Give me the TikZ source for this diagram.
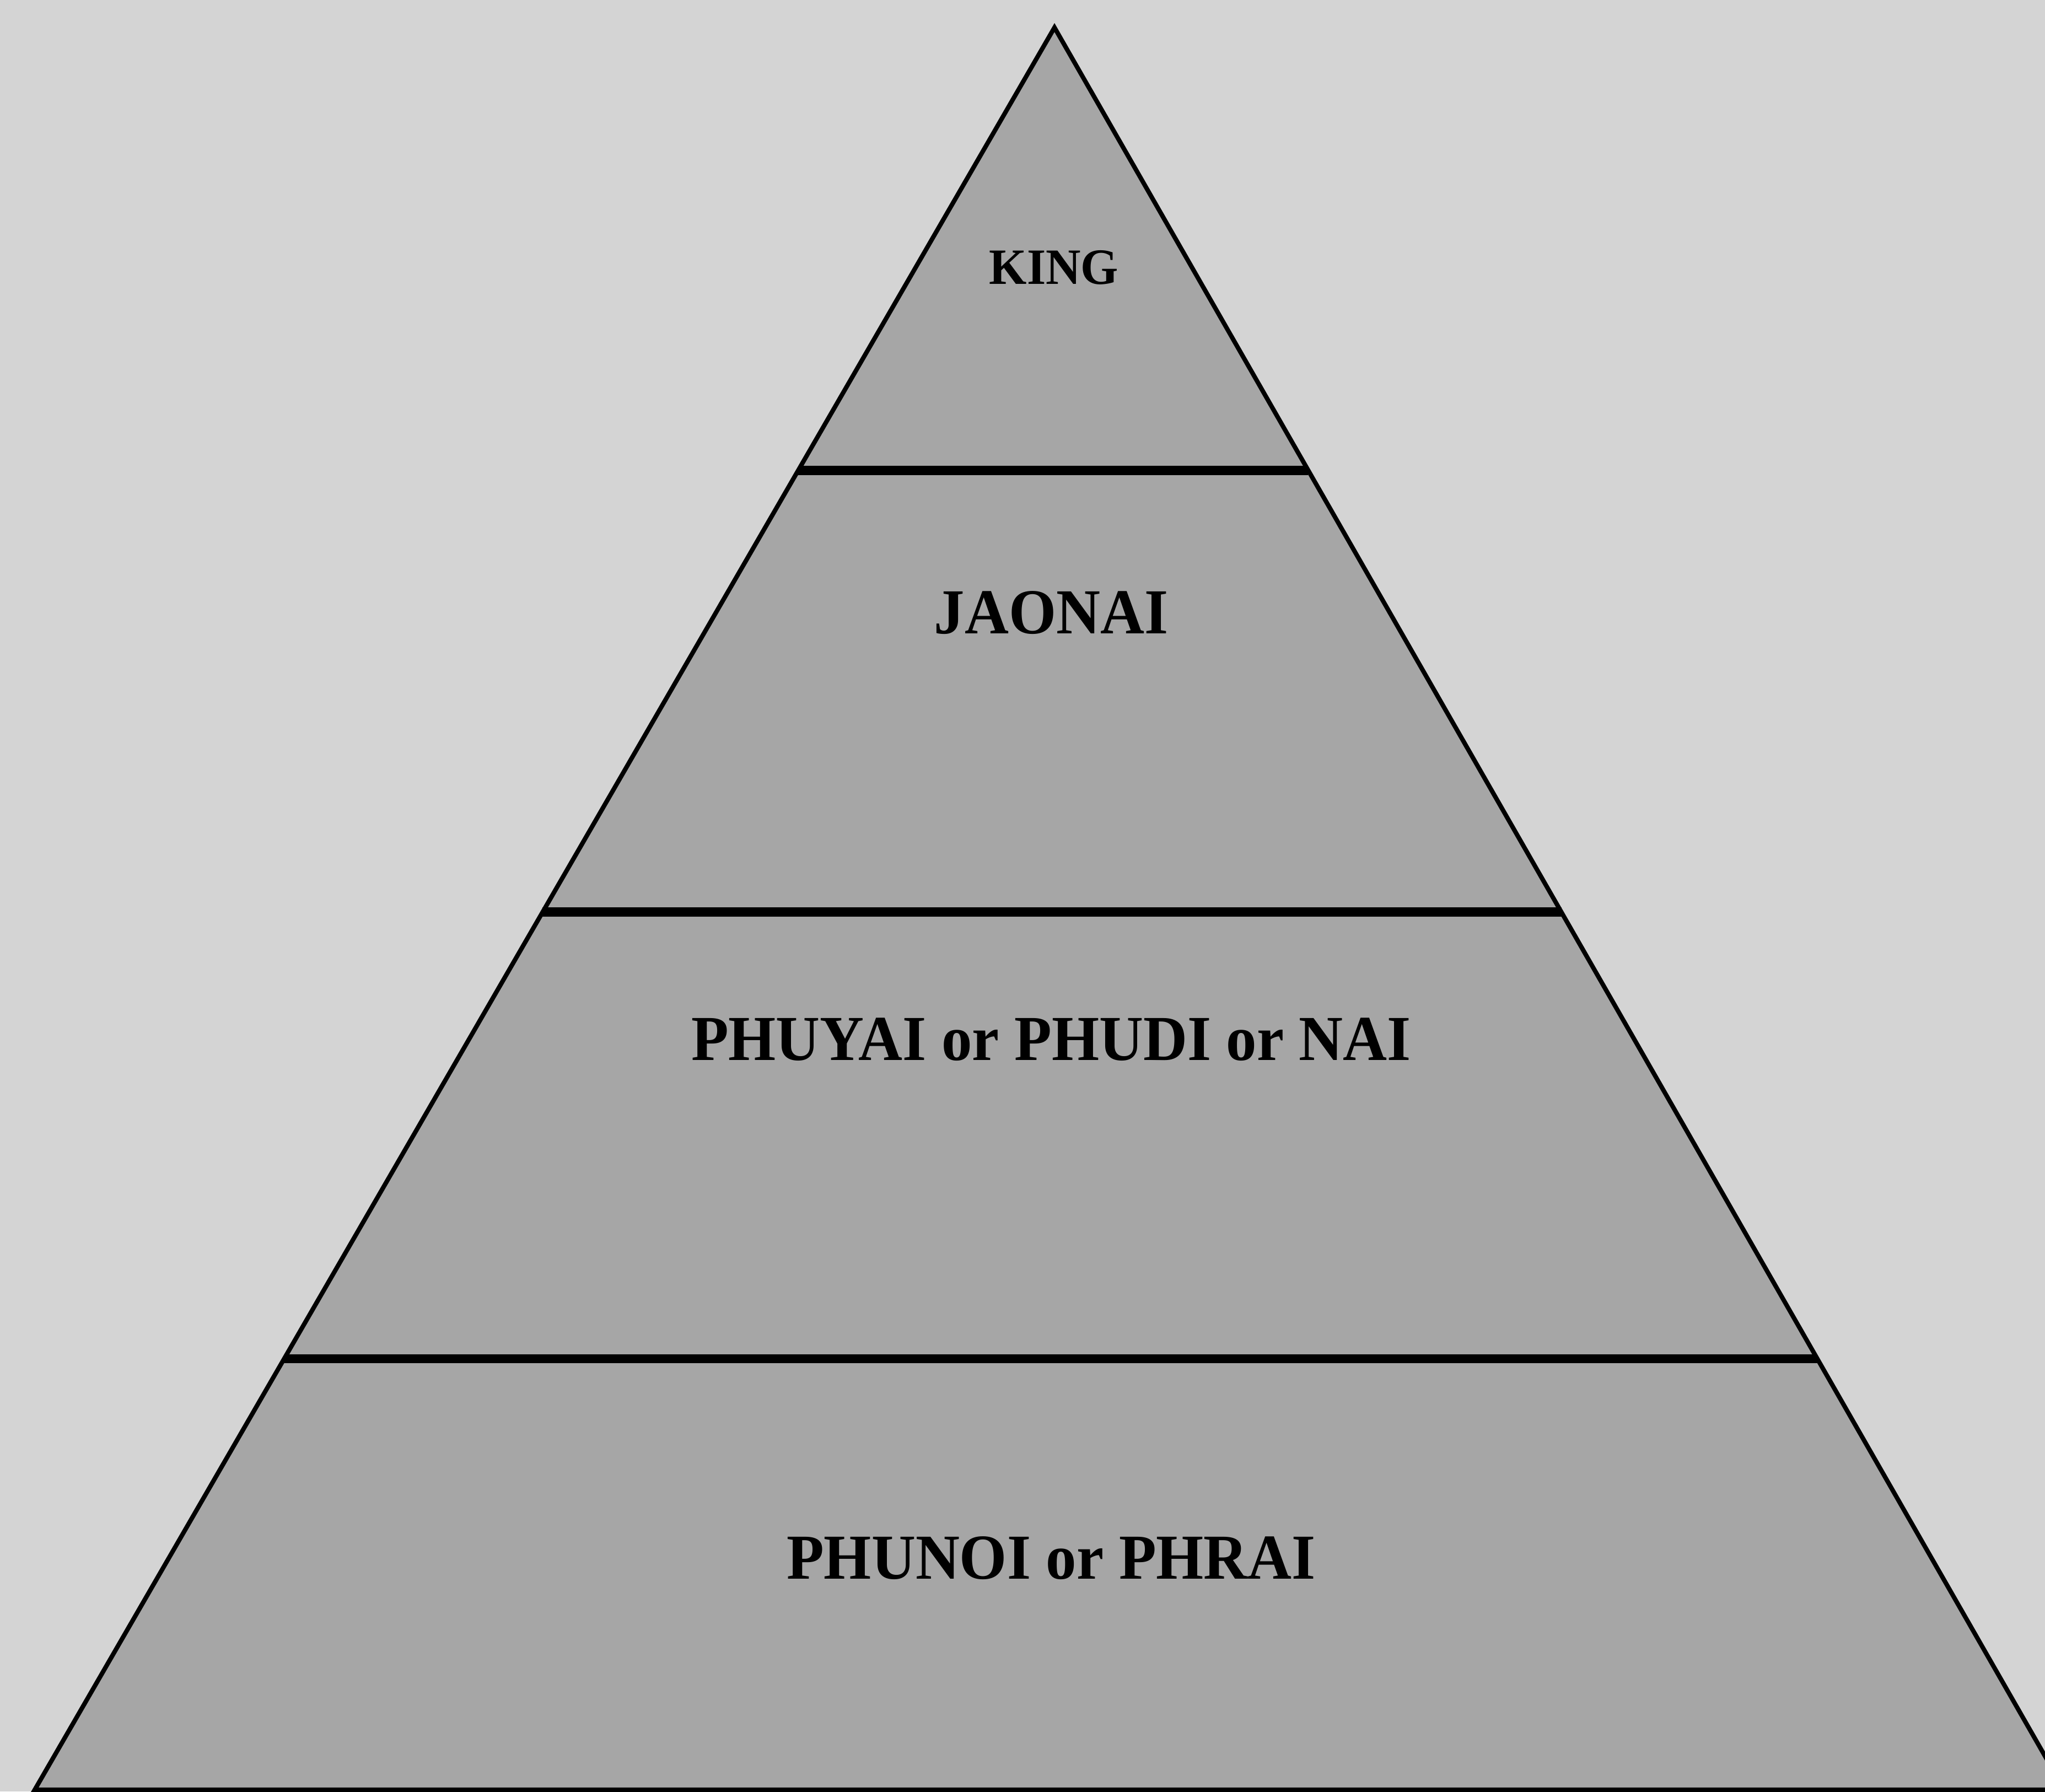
\documentclass[tikz,border=0pt]{standalone}
\usepackage{fontspec}
\setmainfont{Liberation Serif}
\usetikzlibrary{calc}
\definecolor{paper}{RGB}{212,212,212}
\definecolor{tierfill}{RGB}{166,166,166}
\tikzset{
  side/.style={line width=2.3pt, line join=miter},
  divider/.style={line width=4.8pt},
  tierlabel/.style={font=\bfseries\fontsize{31.5pt}{36pt}\selectfont, inner sep=0pt, yscale=1.05, transform shape},
  toplabel/.style={font=\bfseries\fontsize{25pt}{30pt}\selectfont, inner sep=0pt, yscale=1.05, transform shape}
}
\begin{document}
\begin{tikzpicture}
  \fill[paper] (0,0) rectangle (37.1,32.5);
  \useasboundingbox (0,0) rectangle (37.1,32.5);
  \clip (0,0) rectangle (37.1,32.5);
  % corners of the pyramid
  \coordinate (apex) at (19.13,32.00);
  \coordinate (bl) at (0.63,0.03);
  \coordinate (br) at (37.45,0.03);
  \filldraw[fill=tierfill, side] (apex) -- (bl) -- (br) -- cycle;
  % tier boundaries
  \coordinate (l1) at ($(apex)!0.2512!(bl)$);
  \coordinate (r1) at ($(apex)!0.2512!(br)$);
  \coordinate (l2) at ($(apex)!0.502!(bl)$);
  \coordinate (r2) at ($(apex)!0.502!(br)$);
  \coordinate (l3) at ($(apex)!0.7554!(bl)$);
  \coordinate (r3) at ($(apex)!0.7554!(br)$);
  \draw[divider] (l1) -- (r1);
  \draw[divider] (l2) -- (r2);
  \draw[divider] (l3) -- (r3);
  % tier names
  \node[toplabel] (king) at (19.12,27.65) {KING};
  \node[tierlabel] (jaonai) at (19.07,21.38) {JAONAI};
  \node[tierlabel] (phuyai) at (19.07,13.64) {PHUYAI or PHUDI or NAI};
  \node[tierlabel] (phunoi) at (19.07,4.23) {PHUNOI or PHRAI};
\end{tikzpicture}
\end{document}
